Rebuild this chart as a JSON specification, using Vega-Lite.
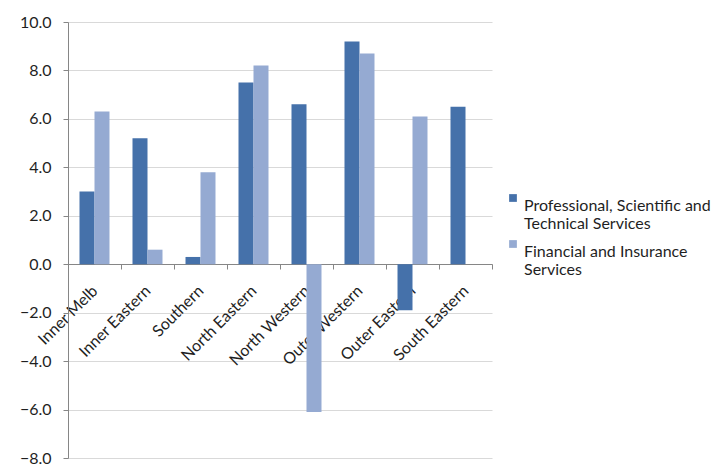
{
  "$schema": "https://vega.github.io/schema/vega-lite/v6.json",
  "width": 424,
  "height": 436,
  "autosize": "none",
  "padding": {"left": 68, "top": 22, "right": 223, "bottom": 14},
  "background": "white",
  "config": {
    "view": {"stroke": null},
    "font": "Lato",
    "axis": {"labelFont": "Lato", "labelColor": "#1f1f1f", "labelFontSize": 16}
  },
  "data": {
    "values": [
      {"region": "Inner Melb", "series": "Professional, Scientific and Technical Services", "value": 3.0},
      {"region": "Inner Melb", "series": "Financial and Insurance Services", "value": 6.3},
      {"region": "Inner Eastern", "series": "Professional, Scientific and Technical Services", "value": 5.2},
      {"region": "Inner Eastern", "series": "Financial and Insurance Services", "value": 0.6},
      {"region": "Southern", "series": "Professional, Scientific and Technical Services", "value": 0.3},
      {"region": "Southern", "series": "Financial and Insurance Services", "value": 3.8},
      {"region": "North Eastern", "series": "Professional, Scientific and Technical Services", "value": 7.5},
      {"region": "North Eastern", "series": "Financial and Insurance Services", "value": 8.2},
      {"region": "North Western", "series": "Professional, Scientific and Technical Services", "value": 6.6},
      {"region": "North Western", "series": "Financial and Insurance Services", "value": -6.1},
      {"region": "Outer Western", "series": "Professional, Scientific and Technical Services", "value": 9.2},
      {"region": "Outer Western", "series": "Financial and Insurance Services", "value": 8.7},
      {"region": "Outer Eastern", "series": "Professional, Scientific and Technical Services", "value": -1.9},
      {"region": "Outer Eastern", "series": "Financial and Insurance Services", "value": 6.1},
      {"region": "South Eastern", "series": "Professional, Scientific and Technical Services", "value": 6.5}
    ]
  },
  "mark": {"type": "bar"},
  "encoding": {
    "x": {
      "field": "region",
      "type": "nominal",
      "sort": null,
      "scale": {"paddingInner": 0, "paddingOuter": 0},
      "axis": {
        "title": null,
        "offset": -194,
        "labelAngle": -45,
        "labelAlign": "right",
        "labelBaseline": "middle",
        "labelPadding": 19,
        "labelOverlap": false,
        "tickBand": "extent",
        "tickSize": 5,
        "tickColor": "#868686",
        "domainColor": "#868686",
        "grid": false
      }
    },
    "xOffset": {
      "field": "series",
      "type": "nominal",
      "sort": ["Professional, Scientific and Technical Services", "Financial and Insurance Services"],
      "scale": {"paddingInner": 0, "paddingOuter": 0.767}
    },
    "y": {
      "field": "value",
      "type": "quantitative",
      "scale": {"domain": [-8, 10], "nice": false, "zero": false},
      "axis": {
        "title": null,
        "values": [-8, -6, -4, -2, 0, 2, 4, 6, 8, 10],
        "format": ".1f",
        "grid": true,
        "gridColor": "#d9d9d9",
        "domainColor": "#868686",
        "tickColor": "#868686",
        "tickSize": 5,
        "labelPadding": 12
      }
    },
    "color": {
      "field": "series",
      "type": "nominal",
      "sort": ["Professional, Scientific and Technical Services", "Financial and Insurance Services"],
      "scale": {"range": ["#4571AA", "#95AAD2"]},
      "legend": {
        "title": null,
        "orient": "none",
        "legendX": 437,
        "legendY": 168,
        "padding": 0,
        "symbolType": "square",
        "symbolSize": 60,
        "symbolStrokeWidth": 0,
        "symbolOffset": 0,
        "labelFont": "Lato",
        "labelFontSize": 16,
        "labelColor": "#1f1f1f",
        "labelLineHeight": 22,
        "labelLimit": 300,
        "labelOffset": 3,
        "labelBaseline": "top",
        "rowPadding": 4,
        "labelExpr": "datum.label == 'Professional, Scientific and Technical Services' ? ['Professional, Scientific and', 'Technical Services'] : ['Financial and Insurance', 'Services']"
      }
    }
  }
}
